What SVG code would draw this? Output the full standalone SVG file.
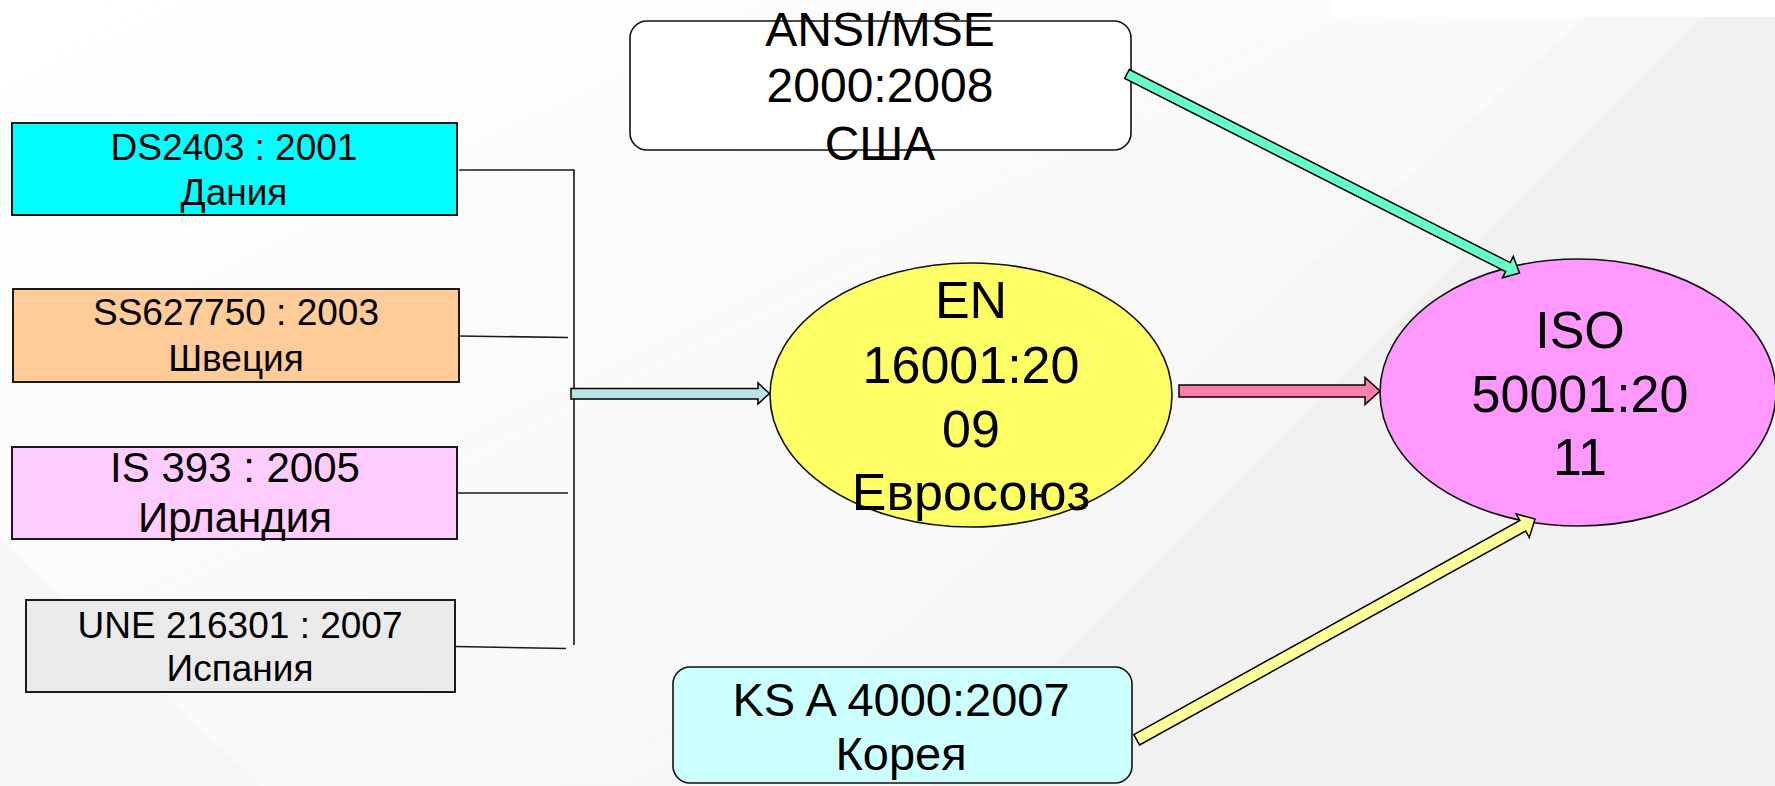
<svg xmlns="http://www.w3.org/2000/svg" width="1775" height="786" viewBox="0 0 1775 786">
  <style>
    .box { stroke: #1a1a1a; stroke-width: 2; }
    .oval { stroke: #111111; stroke-width: 1.6; }
    .rbox { stroke: #111111; stroke-width: 1.6; }
    .lbl { font-family: "Liberation Sans", Arial, sans-serif; fill: #000000; text-anchor: middle; }
    .s37 { font-size: 37px; }
    .s42 { font-size: 42px; }
    .s47 { font-size: 47px; }
    .s48 { font-size: 48px; }
    .s52 { font-size: 52px; }
    .wire { fill: none; stroke: #1a1a1a; stroke-width: 1.6; }
    .blk { stroke: #000000; stroke-width: 1.5; stroke-linejoin: miter; }
  </style>
  <defs>
    <linearGradient id="bgShade" x1="0" y1="0" x2="1" y2="1">
      <stop offset="0" stop-color="#FFFFFF"/>
      <stop offset="1" stop-color="#F4F4F4"/>
    </linearGradient>
  </defs>

  <!-- backdrop: pale grey with soft diagonal light bands -->
  <g id="backdrop">
    <rect x="0" y="0" width="1775" height="786" fill="#F1F1F1"/>
    <polygon points="0,0 1605,0 733,786 0,786" fill="url(#bgShade)"/>
    <polygon points="1605,0 1717,0 931,786 733,786" fill="#F6F6F6"/>
    <polygon points="0,540 0,786 260,786" fill="#F5F5F5" opacity="0.8"/>
    <rect x="1332" y="0" width="443" height="17" fill="#FFFFFF"/>
  </g>

  <!-- national standards on the left -->
  <g id="n-ds2403">
    <rect class="box" x="12" y="123" width="445" height="92" fill="#00FFFF"/>
    <text class="lbl s37" x="234" y="160">DS2403 : 2001</text>
    <text class="lbl s37" x="234" y="205">Дания</text>
  </g>
  <g id="n-ss627750">
    <rect class="box" x="13" y="289" width="446" height="93" fill="#FFCC99"/>
    <text class="lbl s37" x="236" y="325">SS627750 : 2003</text>
    <text class="lbl s37" x="236" y="371">Швеция</text>
  </g>
  <g id="n-is393">
    <rect class="box" x="12" y="447" width="445" height="92" fill="#FFCCFF"/>
    <text class="lbl s42" x="235" y="482">IS 393 : 2005</text>
    <text class="lbl s42" x="235" y="532">Ирландия</text>
  </g>
  <g id="n-une216301">
    <rect class="box" x="26" y="600" width="429" height="92" fill="#EAEAEA"/>
    <text class="lbl s37" x="240" y="638">UNE 216301 : 2007</text>
    <text class="lbl s37" x="240" y="681">Испания</text>
  </g>

  <!-- USA -->
  <g id="n-ansi">
    <rect class="rbox" x="630" y="21" width="501" height="129" rx="17" ry="17" fill="#FFFFFF"/>
    <text class="lbl s48" x="880" y="46">ANSI/MSE</text>
    <text class="lbl s48" x="880" y="102">2000:2008</text>
    <text class="lbl s48" x="880" y="160">США</text>
  </g>

  <!-- European standard -->
  <g id="n-en16001">
    <ellipse class="oval" cx="971" cy="395" rx="201" ry="132" fill="#FFFF66"/>
    <text class="lbl s52" x="971" y="318">EN</text>
    <text class="lbl s52" x="971" y="383">16001:20</text>
    <text class="lbl s52" x="971" y="447">09</text>
    <text class="lbl s52" x="971" y="510">Евросоюз</text>
  </g>

  <!-- international standard -->
  <g id="n-iso50001">
    <ellipse class="oval" cx="1578" cy="392.5" rx="198" ry="133.5" fill="#FF99FF"/>
    <text class="lbl s52" x="1580" y="348">ISO</text>
    <text class="lbl s52" x="1580" y="412">50001:20</text>
    <text class="lbl s52" x="1580" y="475">11</text>
  </g>

  <!-- Korea -->
  <g id="n-ks4000">
    <rect class="rbox" x="673" y="667" width="459" height="116" rx="17" ry="17" fill="#CCFFFF"/>
    <text class="lbl s47" x="901" y="716">KS A 4000:2007</text>
    <text class="lbl s47" x="901" y="770">Корея</text>
  </g>

  <!-- links between standards -->
  <g id="connectors">
    <path class="wire" d="M459,170 H574 V645"/>
    <path class="wire" d="M459,336 L568,337.5"/>
    <path class="wire" d="M458,493 H568"/>
    <path class="wire" d="M455,646.5 L566,648.5"/>
    <polygon class="blk" fill="#BBE3E3" points="571,388.5 758,388.5 758,383 769.5,393.5 758,404 758,399 571,399"/>
    <polygon class="blk" fill="#FF7FAA" points="1179,385 1365,385 1365,377.5 1380,391 1365,404.5 1365,397 1179,397"/>
    <polygon class="blk" fill="#66FFCC" points="1129.3,69.5 1510.2,262.6 1513.3,256.4 1519.5,273 1502.5,277.8 1505.6,271.6 1124.7,78.5"/>
    <polygon class="blk" fill="#FFFF99" points="1133.8,734.6 1519.9,520.5 1516.2,514 1535,519 1529.3,537.6 1525.7,531 1139.6,745"/>
  </g>
</svg>
